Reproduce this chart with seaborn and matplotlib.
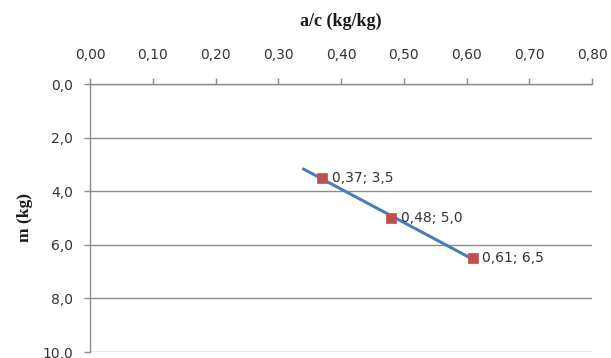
import numpy as np
import pandas as pd
import matplotlib
matplotlib.use("Agg")
import matplotlib.pyplot as plt
import seaborn as sns

# Data
ac_values = [0.37, 0.48, 0.61]
m_values = [3.5, 5.0, 6.5]
point_labels = ["0,37; 3,5", "0,48; 5,0", "0,61; 6,5"]
x_ticks = [0.0, 0.1, 0.2, 0.3, 0.4, 0.5, 0.6, 0.7, 0.8]
y_ticks = [0.0, 2.0, 4.0, 6.0, 8.0, 10.0]
trend_start = 0.34  # backward forecast of the trendline

sns.set_theme(style="white")
plt.rcParams['font.family'] = ['DejaVu Sans']
plt.rcParams['font.sans-serif'] = ['DejaVu Sans']

df = pd.DataFrame({"ac": ac_values, "m": m_values})

fig = plt.figure(figsize=(6.11, 3.58), dpi=100)
ax = fig.add_axes([90/611, 1-352/358, (592-90)/611, (352-84)/358])

# Linear trendline
slope, intercept = np.polyfit(df["ac"], df["m"], 1)
tx = np.linspace(trend_start, max(ac_values), 50)
trend = pd.DataFrame({"ac": tx, "m": slope*tx + intercept})
sns.lineplot(data=trend, x="ac", y="m", ax=ax, color="#4A7EBB", linewidth=2.2, zorder=3)

sns.scatterplot(data=df, x="ac", y="m", ax=ax, marker="s", s=55, color="#C0504D",
                edgecolor="#C0504D", linewidth=0.5, zorder=4)

for x, y, lab in zip(ac_values, m_values, point_labels):
    ax.annotate(lab, (x, y), xytext=(7, 0), textcoords="offset points",
                ha="left", va="center", fontsize=10, color="#333333",
                family="DejaVu Sans")

ax.set_xlim(0, 0.8)
ax.set_ylim(10, 0)
ax.xaxis.tick_top()
ax.xaxis.set_label_position("top")
ax.set_xticks(x_ticks)
ax.set_xticklabels([f"{v:.2f}".replace(".", ",") for v in x_ticks], family="DejaVu Sans")
ax.set_yticks(y_ticks)
ax.set_yticklabels([f"{v:.1f}".replace(".", ",") for v in y_ticks], family="DejaVu Sans")

ax.grid(axis="y", color="#8C8C8C", linewidth=1.0)
ax.grid(axis="x", visible=False)
for side in ["right", "bottom"]:
    ax.spines[side].set_visible(False)
for side in ["left", "top"]:
    ax.spines[side].set_color("#8C8C8C")
    ax.spines[side].set_linewidth(1.0)

ax.tick_params(axis="x", which="both", top=True, bottom=False, direction="out",
               length=4, width=1, color="#8C8C8C", pad=12, labelsize=10, labelcolor="#333333")
ax.tick_params(axis="y", which="both", left=True, direction="out",
               length=4, width=1, color="#8C8C8C", pad=8, labelsize=10, labelcolor="#333333")

ax.set_xlabel("a/c (kg/kg)", fontsize=13, fontweight="bold", family="Liberation Serif",
              labelpad=16, color="#1a1a1a")
ax.set_ylabel("m (kg)", fontsize=12.5, fontweight="bold", family="Liberation Serif",
              labelpad=7, color="#1a1a1a")

fig.savefig("out.png", dpi=100, facecolor="white")
